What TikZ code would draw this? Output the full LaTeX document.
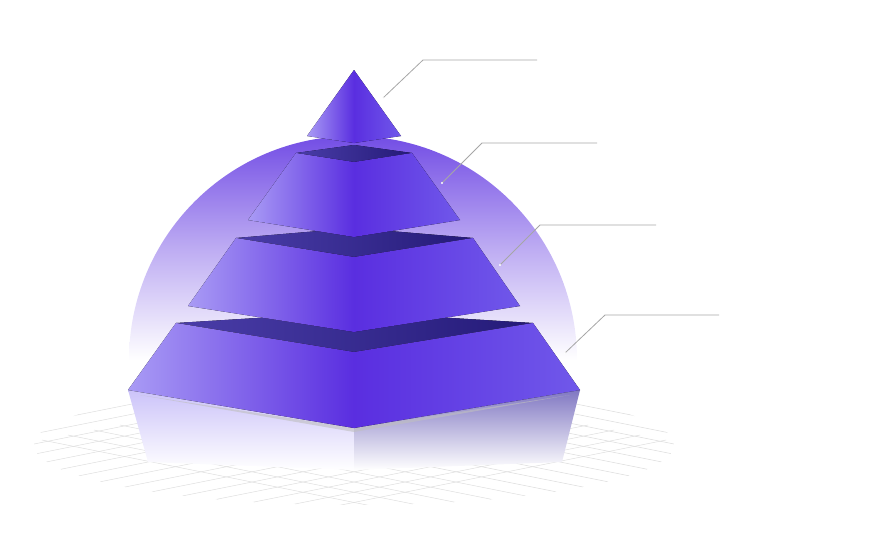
\documentclass[tikz,border=0pt]{standalone}
\usetikzlibrary{fadings}
\definecolor{pL}{HTML}{A99BF5}
\definecolor{pM}{HTML}{5A2EE0}
\definecolor{pR}{HTML}{7058EA}
\definecolor{tA}{HTML}{4A3DA8}
\definecolor{tB}{HTML}{241A78}
\definecolor{gridc}{HTML}{C8C8C8}
\tikzset{
 leftface/.style={left color=pL,right color=pM,draw=none},
 rightface/.style={left color=pM,right color=pR,draw=none},
 topface/.style={left color=tA,right color=tB,draw=none},
 leader/.style={draw=gray!70,line width=0.8pt},
 gridline/.style={draw=gridc,line width=0.5pt}
}
\begin{document}
\begin{tikzpicture}[x=1pt,y=-1pt]
\useasboundingbox (0,0) rectangle (888,551);
% dome
\shade[top color=pM!85,bottom color=white,middle color=pM!40] (129,360) arc[start angle=180,end angle=360,radius=224] -- cycle;
% floor grid
\begin{scope}
\clip (354,445) ellipse[x radius=320,y radius=60];
\foreach \i in {-12,...,12}{
  \draw[gridline] (354+\i*26,380+\i*5) -- ++(-260,52) -- ++(-260,52);
  \draw[gridline] (354+\i*26,380-\i*5) -- ++(260,52) -- ++(260,52);
}
\end{scope}
\fill[white,opacity=0.4] (354,445) ellipse[x radius=320,y radius=60];
% reflection
\shade[top color=pL!60,bottom color=white] (128,390) -- (354,428) -- (354,470) -- (148,462) -- cycle;
\shade[top color=tA!70,bottom color=white] (354,428) -- (580,390) -- (562,462) -- (354,470) -- cycle;
\fill[gray!50,opacity=0.6] (140,395) -- (354,432) -- (570,395) -- (354,428) -- cycle;
% tier 4
\fill[topface] (176,323) -- (354,312) -- (533,323) -- (354,352) -- cycle;
\fill[leftface] (176,323) -- (354,352) -- (354,428) -- (128,390) -- cycle;
\fill[rightface] (354,352) -- (533,323) -- (580,390) -- (354,428) -- cycle;
% tier 3
\fill[topface] (236,238) -- (354,228) -- (473,238) -- (354,257) -- cycle;
\fill[leftface] (236,238) -- (354,257) -- (354,332) -- (188,306) -- cycle;
\fill[rightface] (354,257) -- (473,238) -- (520,306) -- (354,332) -- cycle;
% tier 2
\fill[topface] (296,153) -- (354,145) -- (412,153) -- (354,162) -- cycle;
\fill[leftface] (296,153) -- (354,162) -- (354,237) -- (248,220) -- cycle;
\fill[rightface] (354,162) -- (412,153) -- (460,220) -- (354,237) -- cycle;
% top
\fill[leftface] (354,70) -- (354,143) -- (307,136) -- cycle;
\fill[rightface] (354,70) -- (401,136) -- (354,143) -- cycle;
% leaders
\coordinate (a1) at (383,98); \coordinate (a2) at (423,60); \coordinate (a3) at (537,60);
\coordinate (b1) at (442,183); \coordinate (b2) at (482,143); \coordinate (b3) at (597,143);
\coordinate (c1) at (500,265); \coordinate (c2) at (540,225); \coordinate (c3) at (656,225);
\coordinate (d1) at (565,353); \coordinate (d2) at (605,315); \coordinate (d3) at (719,315);
\foreach \p in {a,b,c,d}{
  \draw[leader] (\p1) -- (\p2) -- (\p3);
  \fill[white] (\p1) circle[radius=1.2];
}
\end{tikzpicture}
\end{document}
